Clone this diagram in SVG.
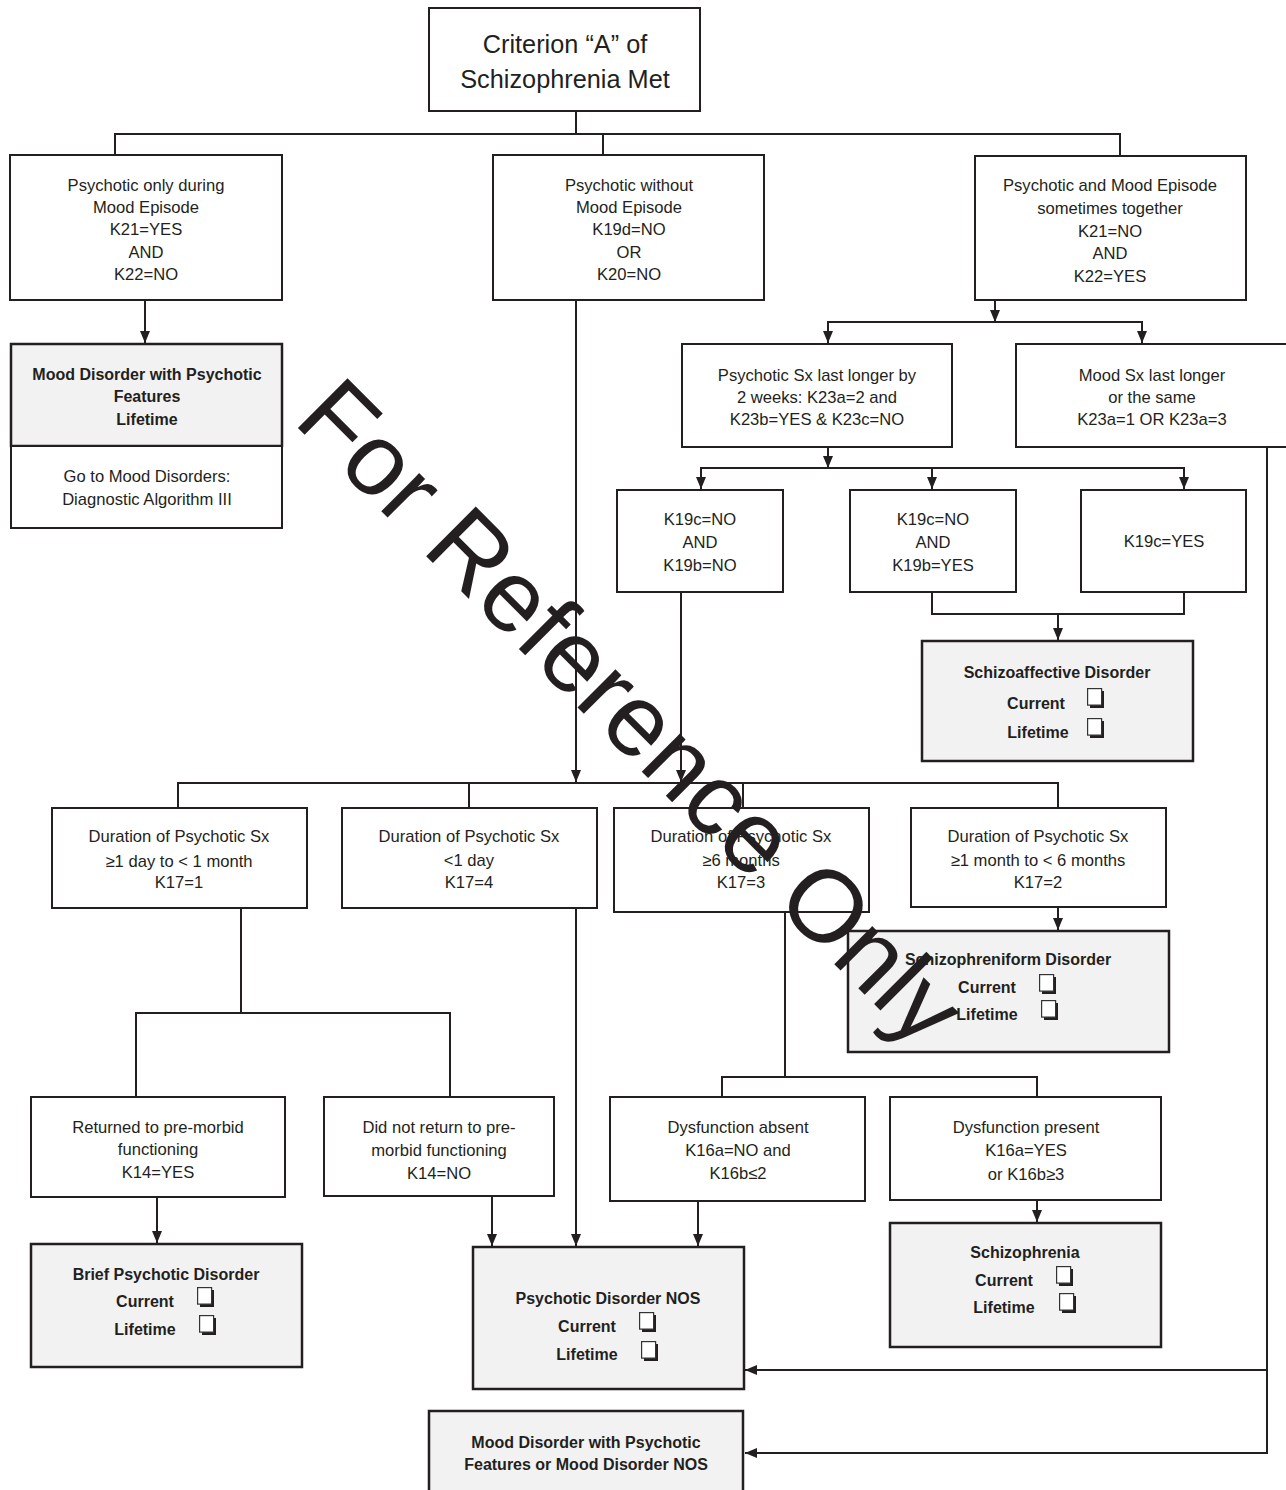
<svg xmlns="http://www.w3.org/2000/svg" xmlns:xlink="http://www.w3.org/1999/xlink" width="1286" height="1490" viewBox="0 0 1286 1490">
<defs>
<style>
.box{fill:#fff;stroke:#231f20;stroke-width:2}
.res{fill:#f2f2f2;stroke:#231f20;stroke-width:2.5}
.t{font-family:"Liberation Sans",Arial,sans-serif;font-size:16.6px;fill:#231f20;text-anchor:middle}
.b{font-weight:bold;font-size:16px}
.title{font-size:25.3px}
.c{fill:none;stroke:#231f20;stroke-width:2}
.wm{font-family:"Liberation Sans",Arial,sans-serif;font-size:102px;fill:#231f20}
</style>
<marker id="ah" markerUnits="userSpaceOnUse" markerWidth="12" markerHeight="12" viewBox="0 0 12 12" refX="12" refY="6" orient="auto">
<path d="M0,1 L12,6 L0,11 z" fill="#231f20"/>
</marker>
<g id="cb">
<rect x="3" y="3" width="14" height="17" fill="#231f20"/>
<rect x="0.6" y="0.6" width="14" height="16.5" fill="#fff" stroke="#333" stroke-width="1.2"/>
</g>
</defs>
<rect width="1286" height="1490" fill="#fff"/>

<g id="connectors">
<path class="c" d="M576,111 V134 M115,155 V134 H1120 V156 M603,134 V155"/>
<path class="c" d="M145,300 V343" marker-end="url(#ah)"/>
<path class="c" d="M576,300 V782" marker-end="url(#ah)"/>
<path class="c" d="M995,300 V322" marker-end="url(#ah)"/>
<path class="c" d="M995,322 H828 V343" marker-end="url(#ah)"/>
<path class="c" d="M995,322 H1142 V343" marker-end="url(#ah)"/>
<path class="c" d="M828,447 V468" marker-end="url(#ah)"/>
<path class="c" d="M828,468 H701 V489" marker-end="url(#ah)"/>
<path class="c" d="M828,468 H1184 V489" marker-end="url(#ah)"/>
<path class="c" d="M932,468 V489" marker-end="url(#ah)"/>
<path class="c" d="M932,592 V614 H1184 V592"/>
<path class="c" d="M1058,614 V640" marker-end="url(#ah)"/>
<path class="c" d="M681,592 V782" marker-end="url(#ah)"/>
<path class="c" d="M178,808 V783 H1058 V808 M469,783 V808 M743,783 V808"/>
<path class="c" d="M241,908 V1013 M136,1097 V1013 H450 V1097"/>
<path class="c" d="M576,908 V1246" marker-end="url(#ah)"/>
<path class="c" d="M785,912 V1077 M722,1097 V1077 H1037 V1097"/>
<path class="c" d="M1058,907 V930" marker-end="url(#ah)"/>
<path class="c" d="M157,1197 V1243" marker-end="url(#ah)"/>
<path class="c" d="M492,1196 V1246" marker-end="url(#ah)"/>
<path class="c" d="M698,1201 V1246" marker-end="url(#ah)"/>
<path class="c" d="M1037,1200 V1222" marker-end="url(#ah)"/>
<path class="c" d="M1267,447 V1453 H745" marker-end="url(#ah)"/>
<path class="c" d="M1267,1370 H745" marker-end="url(#ah)"/>
</g>

<g id="criterion">
<rect class="box" x="429" y="8" width="271" height="103"/>
<text class="t title" x="565" y="53">Criterion “A” of</text>
<text class="t title" x="565" y="88">Schizophrenia Met</text>
</g>

<g id="psychotic-during-mood">
<rect class="box" x="10" y="155" width="272" height="145"/>
<text class="t" x="146" y="190.5">Psychotic only during</text>
<text class="t" x="146" y="212.5">Mood Episode</text>
<text class="t" x="146" y="234.5">K21=YES</text>
<text class="t" x="146" y="257.5">AND</text>
<text class="t" x="146" y="279.5">K22=NO</text>
</g>

<g id="psychotic-without-mood">
<rect class="box" x="493" y="155" width="271" height="145"/>
<text class="t" x="629" y="190.5">Psychotic without</text>
<text class="t" x="629" y="212.5">Mood Episode</text>
<text class="t" x="629" y="234.5">K19d=NO</text>
<text class="t" x="629" y="257.5">OR</text>
<text class="t" x="629" y="279.5">K20=NO</text>
</g>

<g id="psychotic-and-mood">
<rect class="box" x="975" y="156" width="271" height="144"/>
<text class="t" x="1110" y="190.5">Psychotic and Mood Episode</text>
<text class="t" x="1110" y="213.5">sometimes together</text>
<text class="t" x="1110" y="236.5">K21=NO</text>
<text class="t" x="1110" y="258.5">AND</text>
<text class="t" x="1110" y="281.5">K22=YES</text>
</g>

<g id="mood-disorder-psychotic">
<rect class="res" x="11" y="344" width="271" height="102"/>
<rect class="box" x="11" y="446" width="271" height="82"/>
<text class="t b" x="147" y="379.5">Mood Disorder with Psychotic</text>
<text class="t b" x="147" y="401.5">Features</text>
<text class="t b" x="147" y="424.5">Lifetime</text>
<text class="t" x="147" y="481.5">Go to Mood Disorders:</text>
<text class="t" x="147" y="504.5">Diagnostic Algorithm III</text>
</g>

<g id="psychotic-sx-longer">
<rect class="box" x="682" y="344" width="270" height="103"/>
<text class="t" x="817" y="380.5">Psychotic Sx last longer by</text>
<text class="t" x="817" y="402.5">2 weeks: K23a=2 and</text>
<text class="t" x="817" y="424.5">K23b=YES &amp; K23c=NO</text>
</g>

<g id="mood-sx-longer">
<rect class="box" x="1016" y="344" width="290" height="103"/>
<text class="t" x="1152" y="380.5">Mood Sx last longer</text>
<text class="t" x="1152" y="402.5">or the same</text>
<text class="t" x="1152" y="424.5">K23a=1 OR K23a=3</text>
</g>

<g id="k19-no-no">
<rect class="box" x="617" y="490" width="166" height="102"/>
<text class="t" x="700" y="524.5">K19c=NO</text>
<text class="t" x="700" y="547.5">AND</text>
<text class="t" x="700" y="570.5">K19b=NO</text>
</g>

<g id="k19-no-yes">
<rect class="box" x="850" y="490" width="166" height="102"/>
<text class="t" x="933" y="524.5">K19c=NO</text>
<text class="t" x="933" y="547.5">AND</text>
<text class="t" x="933" y="570.5">K19b=YES</text>
</g>

<g id="k19c-yes">
<rect class="box" x="1081" y="490" width="165" height="102"/>
<text class="t" x="1164" y="546.5">K19c=YES</text>
</g>

<g id="schizoaffective">
<rect class="res" x="922" y="641" width="271" height="120"/>
<text class="t b" x="1057" y="677.5">Schizoaffective Disorder</text>
<text class="t b" x="1036" y="708.5">Current</text>
<text class="t b" x="1038" y="737.5">Lifetime</text>
<use xlink:href="#cb" x="1087" y="688"/>
<use xlink:href="#cb" x="1087" y="718"/>
</g>

<g id="dur-1day-1month">
<rect class="box" x="52" y="808" width="255" height="100"/>
<text class="t" x="179" y="841.5">Duration of Psychotic Sx</text>
<text class="t" x="179" y="866.5">≥1 day to &lt; 1 month</text>
<text class="t" x="179" y="887.5">K17=1</text>
</g>

<g id="dur-less-1day">
<rect class="box" x="342" y="808" width="255" height="100"/>
<text class="t" x="469" y="841.5">Duration of Psychotic Sx</text>
<text class="t" x="469" y="865.5">&lt;1 day</text>
<text class="t" x="469" y="887.5">K17=4</text>
</g>

<g id="dur-6months">
<rect class="box" x="614" y="808" width="255" height="104"/>
<text class="t" x="741" y="841.5">Duration of Psychotic Sx</text>
<text class="t" x="741" y="865.5">≥6 months</text>
<text class="t" x="741" y="887.5">K17=3</text>
</g>

<g id="dur-1-6months">
<rect class="box" x="911" y="808" width="255" height="99"/>
<text class="t" x="1038" y="841.5">Duration of Psychotic Sx</text>
<text class="t" x="1038" y="865.5">≥1 month to &lt; 6 months</text>
<text class="t" x="1038" y="887.5">K17=2</text>
</g>

<g id="schizophreniform">
<rect class="res" x="848" y="931" width="321" height="121"/>
<text class="t b" x="1008" y="964.5">Schizophreniform Disorder</text>
<text class="t b" x="987" y="992.5">Current</text>
<text class="t b" x="987" y="1019.5">Lifetime</text>
<use xlink:href="#cb" x="1039" y="974"/>
<use xlink:href="#cb" x="1041" y="1000"/>
</g>

<g id="returned">
<rect class="box" x="31" y="1097" width="254" height="100"/>
<text class="t" x="158" y="1132.5">Returned to pre-morbid</text>
<text class="t" x="158" y="1154.5">functioning</text>
<text class="t" x="158" y="1177.5">K14=YES</text>
</g>

<g id="not-returned">
<rect class="box" x="324" y="1097" width="230" height="99"/>
<text class="t" x="439" y="1132.5">Did not return to pre-</text>
<text class="t" x="439" y="1155.5">morbid functioning</text>
<text class="t" x="439" y="1178.5">K14=NO</text>
</g>

<g id="dysfunction-absent">
<rect class="box" x="610" y="1097" width="255" height="104"/>
<text class="t" x="738" y="1132.5">Dysfunction absent</text>
<text class="t" x="738" y="1155.5">K16a=NO and</text>
<text class="t" x="738" y="1178.5">K16b≤2</text>
</g>

<g id="dysfunction-present">
<rect class="box" x="890" y="1097" width="271" height="103"/>
<text class="t" x="1026" y="1132.5">Dysfunction present</text>
<text class="t" x="1026" y="1155.5">K16a=YES</text>
<text class="t" x="1026" y="1179.5">or K16b≥3</text>
</g>

<g id="brief-psychotic">
<rect class="res" x="31" y="1244" width="271" height="123"/>
<text class="t b" x="166" y="1279.5">Brief Psychotic Disorder</text>
<text class="t b" x="145" y="1306.5">Current</text>
<text class="t b" x="145" y="1334.5">Lifetime</text>
<use xlink:href="#cb" x="197" y="1287"/>
<use xlink:href="#cb" x="199" y="1315"/>
</g>

<g id="psychotic-nos">
<rect class="res" x="473" y="1247" width="271" height="142"/>
<text class="t b" x="608" y="1303.5">Psychotic Disorder NOS</text>
<text class="t b" x="587" y="1331.5">Current</text>
<text class="t b" x="587" y="1359.5">Lifetime</text>
<use xlink:href="#cb" x="639" y="1312"/>
<use xlink:href="#cb" x="641" y="1341"/>
</g>

<g id="schizophrenia">
<rect class="res" x="890" y="1223" width="271" height="124"/>
<text class="t b" x="1025" y="1257.5">Schizophrenia</text>
<text class="t b" x="1004" y="1285.5">Current</text>
<text class="t b" x="1004" y="1312.5">Lifetime</text>
<use xlink:href="#cb" x="1056" y="1266"/>
<use xlink:href="#cb" x="1059" y="1293"/>
</g>

<g id="mood-disorder-nos">
<rect class="res" x="429" y="1411" width="314" height="100"/>
<text class="t b" x="586" y="1447.5">Mood Disorder with Psychotic</text>
<text class="t b" x="586" y="1469.5">Features or Mood Disorder NOS</text>
</g>

<g id="watermark">
<text class="wm" transform="translate(292,422) rotate(45)">For Reference Only</text>
</g>
</svg>
